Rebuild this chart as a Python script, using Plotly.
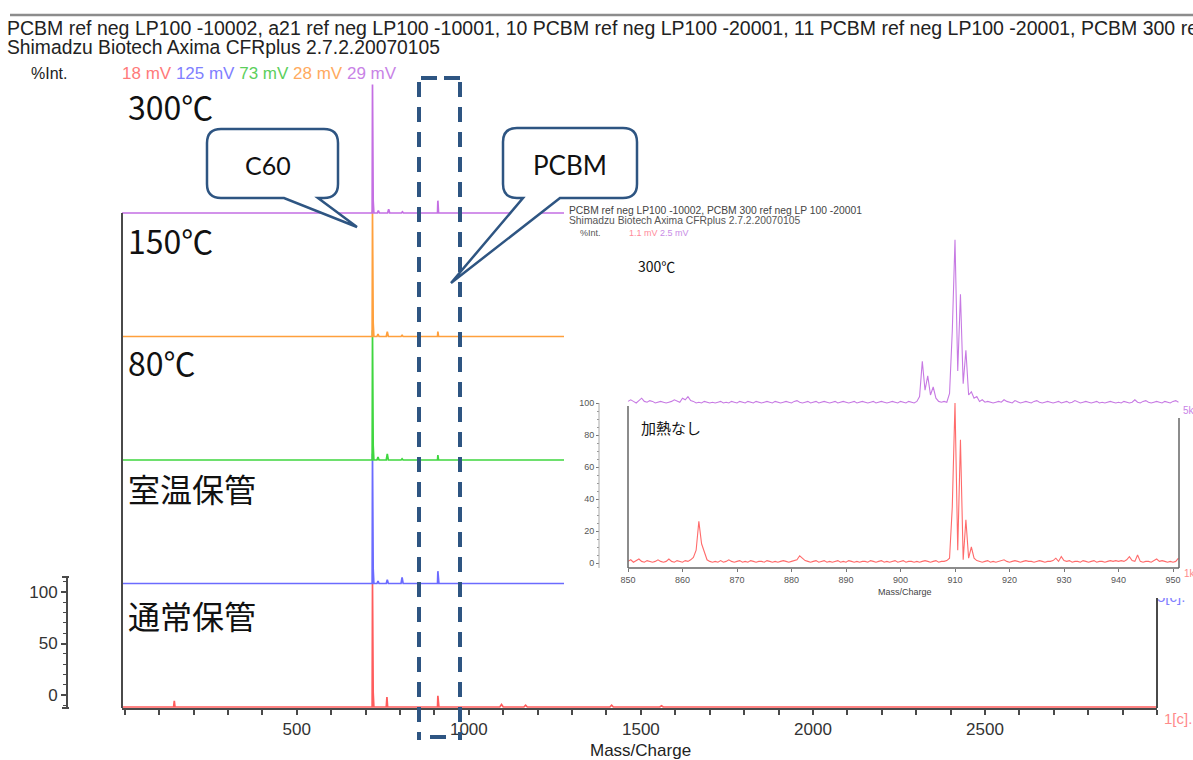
import numpy as np
import plotly.graph_objects as go

W, H = 1193, 760


def fx(p):
    """pixel column -> paper x"""
    return p / W


def fy(p):
    """pixel row -> paper y"""
    return 1 - p / H


# ---------------- overview: stacked spectra, m/z vs %Int. ----------------
sample_names = ["通常保管", "室温保管", "80℃", "150℃", "300℃"]
sample_label_rows = [615, 488, 362, 240, 106]
sample_mv = ["18 mV", "125 mV", "73 mV", "28 mV", "29 mV"]
line_colors = ["#FF5C5C", "#6B6BFF", "#3FD63F", "#FFA03C", "#C46FE3"]
label_colors = ["#FF7A7A", "#8080FF", "#5CCF5C", "#FFAA60", "#C883E6"]

normal_mz = [-8, 142, 144, 146, 717, 719, 720, 721, 722, 724, 760, 762, 764,
             907, 909, 910, 911, 913, 1090, 1095, 1100, 1160, 1165, 1170,
             1410, 1415, 1420, 1555, 1560, 1565, 3000]
normal_int = [0, 0, 5, 0, 0, 0, 100, 42, 12, 0, 0, 8, 0,
              0, 0, 9, 4, 0, 0, 2, 0, 0, 1.5, 0,
              0, 1.5, 0, 0, 1, 0, 0]

room_mz = [-8, 717, 719, 720, 721, 722, 724, 733, 736, 739, 760, 763, 766,
           803, 806, 809, 907, 909, 910, 911, 913, 3000]
room_int = [0, 0, 0, 105, 41, 12, 0, 0, 2, 0, 0, 3, 0,
            0, 5, 0, 0, 0, 10, 5, 0, 0]

c80_mz = [-8, 717, 719, 720, 721, 722, 724, 733, 736, 739, 760, 763, 766,
          803, 806, 809, 907, 909, 910, 912, 3000]
c80_int = [0, 0, 0, 105, 43, 12, 0, 0, 2.5, 0, 0, 5, 0,
           0, 1, 0, 0, 0, 4, 0, 0]

c150_mz = [-8, 717, 719, 720, 721, 722, 724, 733, 736, 739, 760, 763, 766,
           803, 806, 809, 907, 909, 910, 912, 3000]
c150_int = [0, 0, 0, 102, 40, 11, 0, 0, 2, 0, 0, 4, 0,
            0, 1, 0, 0, 0, 4, 0, 0]

c300_mz = [-8, 717, 719, 720, 721, 722, 724, 734, 737, 740, 764, 767, 770,
           804, 807, 810, 907, 909, 910, 912, 3000]
c300_int = [0, 0, 0, 104, 37, 10, 0, 0, 2, 0, 0, 3, 0,
            0, 1, 0, 0, 0, 10, 0, 0]

overview = [(normal_mz, normal_int), (room_mz, room_int), (c80_mz, c80_int),
            (c150_mz, c150_int), (c300_mz, c300_int)]
BAND = 100                      # vertical offset between stacked traces
main_ticks = [500, 1000, 1500, 2000, 2500]
main_range = [-8, 3000]

# ---------------- zoomed region 850-951: untreated vs 300 ℃ ----------------
zoom_mz = np.arange(850, 951.01, 0.5)
untreated_int = [
    1, 2, 0.5, 1.5, 2.5, 1, 0.5, 1.5, 1, 0.5, 1, 2, 1, 0.5, 1, 2.5, 1, 0.5, 1.5, 1,
    0.5, 1.5, 1, 2, 3.5, 8, 26, 12, 7, 2, 1, 0.5, 1, 0.5, 1.5, 0.5, 1, 2, 1, 0.5,
    1, 1.5, 0.5, 1, 0.5, 1.5, 1, 0.5, 1, 1, 0.5, 1.5, 1, 0.5, 1, 0.5, 1, 1.5, 1, 0.5,
    1, 1.5, 2, 4.5, 3, 1.5, 1, 0.5, 1, 1.5, 0.5, 1, 1.5, 0.5, 1, 0.5, 1, 1.5, 0.5, 1,
    0.5, 1.5, 1, 0.5, 1, 0.5, 1, 1, 0.5, 1.5, 1, 0.5, 1, 1.5, 0.5, 1, 0.5, 1, 1.5, 0.5,
    1, 1.5, 0.5, 1, 1, 0.5, 1, 0.5, 1, 1.5, 1, 0.5, 1, 1.5, 0.5, 1, 1, 1.5, 3, 35,
    100, 8, 77, 2, 27, 3, 10, 3, 1.5, 1, 0.5, 1, 1.5, 0.5, 1, 0.5, 1, 1.5, 2, 1,
    0.5, 1, 1.5, 1, 0.5, 1, 1.5, 1, 1, 0.5, 1, 1.5, 1, 0.5, 1, 1, 1.5, 3, 1, 4,
    1.5, 1, 1.5, 0.5, 1, 1, 0.5, 1.5, 1, 0.5, 1, 1.5, 0.5, 1, 1, 0.5, 1, 1.5, 1, 1.5,
    1, 1.5, 1, 2, 4, 1.5, 1, 5, 1, 0.5, 1, 1, 0.5, 1.5, 2.5, 1, 1.5, 1, 0.5, 1,
    0.5, 1, 3,
]
heated300_int = [
    1, 2, 1, 0, 1.5, 3, 1, 0.5, 1.5, 1, 0, 0.5, 1, 0.5, 0, 0.5, 1, 2, 1, 0.5,
    3, 2, 4, 1.5, 1, 0, 0.5, 0, 1, 0.5, 0, 0.5, 0, 0.5, 1, 0, 0.5, 0, 1, 0.5,
    0, 1, 0.5, 0, 1, 0.5, 0, 1, 0.5, 0, 0.5, 1, 0.5, 0, 1, 0.5, 0, 0.5, 1, 0.5,
    0, 1, 1.5, 0.5, 0, 0.5, 1, 0, 0.5, 1, 0, 0.5, 1, 0.5, 0, 0.5, 1, 0, 0.5, 1,
    0.5, 0, 0.5, 1, 0, 0.5, 1, 0.5, 0, 0.5, 1, 0, 0.5, 1, 0.5, 0, 0.5, 1, 0.5, 0,
    1, 0.5, 0, 1, 0.5, 0, 1, 4, 26, 8, 17, 5, 10, 3, 1, 0.5, 1, 0.5, 6, 45,
    102, 20, 68, 12, 33, 5, 7, 3, 4, 1, 2, 0.5, 1, 0.5, 0, 0.5, 1, 0.5, 2, 1,
    0.5, 0, 1.5, 0.5, 0, 0.5, 1, 0.5, 0, 1, 1.5, 0.5, 0, 0.5, 1, 0.5, 0, 0.5, 1, 0,
    0.5, 1, 0, 0.5, 1.5, 0.5, 0, 0.5, 1, 0.5, 0, 0.5, 1, 0, 0.5, 0, 0.5, 1, 0.5, 0,
    0.5, 0, 1, 0.5, 0, 0.5, 2, 0.5, 0, 1, 1.5, 0.5, 0, 0.5, 1, 0.5, 0, 1, 0.5, 0,
    1, 1.5, 0.5,
]
zoom_ticks = list(range(850, 951, 10))
zoom_yticks = [0, 20, 40, 60, 80, 100]
ZOOM_OFFSET = 100               # 300 ℃ trace sits one band above

fig = go.Figure()

for k, (mz, inten) in enumerate(overview):
    fig.add_trace(go.Scatter(
        x=mz, y=[v + k * BAND for v in inten], mode="lines",
        line=dict(color=line_colors[k], width=1.7),
        xaxis="x", yaxis="y", hoverinfo="skip"))

# trace scale label at the right end of the 室温保管 band (partly under the inset)
fig.add_trace(go.Scatter(
    x=[main_range[1]], y=[BAND - 12], mode="text", text=["5[c]."],
    textposition="middle right",
    textfont=dict(size=15, color="#8080FF", family="Liberation Sans"),
    cliponaxis=False, xaxis="x", yaxis="y", hoverinfo="skip"))

fig.add_trace(go.Scatter(
    x=zoom_mz, y=untreated_int, mode="lines",
    line=dict(color="#FF6B6B", width=1.1), xaxis="x2", yaxis="y2", hoverinfo="skip"))
fig.add_trace(go.Scatter(
    x=zoom_mz, y=[v + ZOOM_OFFSET for v in heated300_int], mode="lines",
    line=dict(color="#C77AE3", width=1.1), xaxis="x2", yaxis="y2", hoverinfo="skip"))

# carrier for the stand-alone %Int. scale
fig.add_trace(go.Scatter(x=[0.5], y=[0], mode="markers", marker=dict(opacity=0),
                         xaxis="x3", yaxis="y3", hoverinfo="skip"))

AX = "#4a4a4a"
fig.update_layout(
    width=W, height=H, margin=dict(l=0, r=0, t=0, b=0),
    paper_bgcolor="white", plot_bgcolor="white", showlegend=False,
    font=dict(family="Liberation Sans, Arial, sans-serif", color="#333"),
    xaxis=dict(domain=[fx(122), fx(1157)], range=main_range, anchor="y",
               showline=True, linecolor=AX, linewidth=2,
               ticks="outside", ticklen=5, tickwidth=1.5, tickcolor=AX,
               tickvals=main_ticks, tickfont=dict(size=17, color="#333"),
               minor=dict(dtick=100, tick0=0, ticks="outside", ticklen=5,
                          tickwidth=1.5, tickcolor=AX),
               showgrid=False, zeroline=False),
    yaxis=dict(domain=[fy(708), fy(78)], range=[-1 / 1.235, 629 / 1.235],
               anchor="x", visible=False),
    xaxis2=dict(domain=[fx(564), fx(1193)], range=[850 - 64 / 5.45, 850 + 565 / 5.45],
                anchor="free", position=fy(568),
                ticks="outside", ticklen=3, tickwidth=1, tickcolor="#777",
                tickvals=zoom_ticks, tickfont=dict(size=9, color="#555"),
                showline=False, showgrid=False, zeroline=False),
    yaxis2=dict(domain=[fy(598), fy(203)], range=[-35 / 1.6, 360 / 1.6],
                anchor="free", position=fx(599),
                ticks="outside", ticklen=3, tickwidth=1, tickcolor="#777",
                tickvals=zoom_yticks, tickfont=dict(size=9, color="#555"),
                minor=dict(tickmode="array", tickvals=list(range(0, 101, 5)),
                           ticks="outside", ticklen=2, tickcolor="#999"),
                showline=False, showgrid=False, zeroline=False),
    xaxis3=dict(domain=[fx(68), fx(70)], range=[0, 1], anchor="y3", visible=False),
    yaxis3=dict(domain=[fy(708), fy(577)], range=[(695 - 708) / 1.03, (695 - 577) / 1.03],
                anchor="x3", showline=True, linecolor=AX, linewidth=2,
                ticks="outside", ticklen=5, tickwidth=1.5, tickcolor=AX,
                tickvals=[0, 50, 100], tickfont=dict(size=17, color="#333"),
                minor=dict(dtick=10, tick0=0, ticks="outside", ticklen=3,
                           tickwidth=1, tickcolor=AX),
                showgrid=False, zeroline=False),
)


def seg(x0, y0, x1, y1, color, width, dash=None):
    fig.add_shape(type="line", xref="paper", yref="paper",
                  x0=fx(x0), y0=fy(y0), x1=fx(x1), y1=fy(y1),
                  line=dict(color=color, width=width, dash=dash), layer="above")


# header rule and frames
seg(10, 15, 1193, 15, "#8c8c8c", 2.5)
seg(122, 213, 122, 708, AX, 2)
seg(1157, 598, 1157, 708, AX, 2)
seg(62, 577, 69, 577, AX, 2)
seg(62, 708, 69, 708, AX, 2)
seg(628, 406, 628, 568, "#666", 1.5)
seg(628, 568, 1179, 568, "#666", 1.5)
seg(1179, 418, 1179, 568, "#666", 1.5)
seg(599, 403, 599, 568, "#aaa", 1)

# dashed window marking the zoomed m/z region
BOX = "#2E5582"
seg(419, 82, 419, 740, BOX, 4, "15px,10px")
seg(460, 82, 460, 740, BOX, 4, "15px,10px")
seg(421, 78, 461, 78, BOX, 4, "16px,7px")
seg(430, 737, 446, 737, BOX, 4)


def callout(box, base, tip, r=14):
    L, T, R, B = box
    b1, b2 = base
    P = lambda x, y: f"{fx(x):.5f},{fy(y):.5f}"
    return (f"M {P(L + r, T)} L {P(R - r, T)} Q {P(R, T)} {P(R, T + r)} "
            f"L {P(R, B - r)} Q {P(R, B)} {P(R - r, B)} L {P(b2, B)} "
            f"L {P(*tip)} L {P(b1, B)} L {P(L + r, B)} Q {P(L, B)} {P(L, B - r)} "
            f"L {P(L, T + r)} Q {P(L, T)} {P(L + r, T)} Z")


for path in (callout((207, 129, 338, 198), (284, 318), (357, 227)),
             callout((503, 128, 637, 198), (523, 560), (451, 283))):
    fig.add_shape(type="path", xref="paper", yref="paper", path=path,
                  fillcolor="white", line=dict(color=BOX, width=2.5), layer="above")


def note(x, y, text, size, color="#222", family="Liberation Sans", anchor="left"):
    fig.add_annotation(x=fx(x), y=fy(y), xref="paper", yref="paper",
                       text=text, showarrow=False, xanchor=anchor, yanchor="middle",
                       font=dict(size=size, color=color, family=family))


note(5, 28, "PCBM ref neg LP100 -10002, a21 ref neg LP100 -10001, 10 PCBM ref neg LP100 -20001, "
            "11 PCBM ref neg LP100 -20001, PCBM 300 ref neg LP 100 -20001", 19.5)
note(5, 47, "Shimadzu Biotech Axima CFRplus 2.7.2.20070105", 19.3)
note(29, 73, "%Int.", 16)
note(120, 73, " ".join(f"<span style='color:{c}'>{m}</span>"
                       for c, m in zip(label_colors, sample_mv)), 17)
note(640, 750, "Mass/Charge", 17, anchor="center")
note(1162, 718, "1[c].", 15, color="#FF8A8A")

for name, row in zip(sample_names, sample_label_rows):
    note(126, row, name, 32, color="#111", family="Noto Sans CJK JP")

note(268, 165, "C60", 25, color="#111", family="Lato", anchor="center")
note(570, 165, "PCBM", 26, color="#111", family="Lato", anchor="center")

# inset captions
note(567, 210, "PCBM ref neg LP100 -10002, PCBM 300 ref neg LP 100 -20001", 10.3, color="#444")
note(567, 221, "Shimadzu Biotech Axima CFRplus 2.7.2.20070105", 10.3, color="#555")
note(578, 233, "%Int.", 9, color="#555")
note(627, 233, "<span style='color:#FF8A9A'>1.1 mV</span> <span style='color:#C88BE6'>2.5 mV</span>", 9)
note(636, 266, "300℃", 14, color="#111", family="Noto Sans CJK JP")
note(639, 427, "加熱なし", 15, color="#111", family="Noto Sans CJK JP")
note(905, 592, "Mass/Charge", 9, color="#444", anchor="center")
note(1181, 411, "5k[", 10, color="#C883E6")
note(1182, 573, "1k[", 10, color="#FF8A8A")

fig.write_html("out.html")
